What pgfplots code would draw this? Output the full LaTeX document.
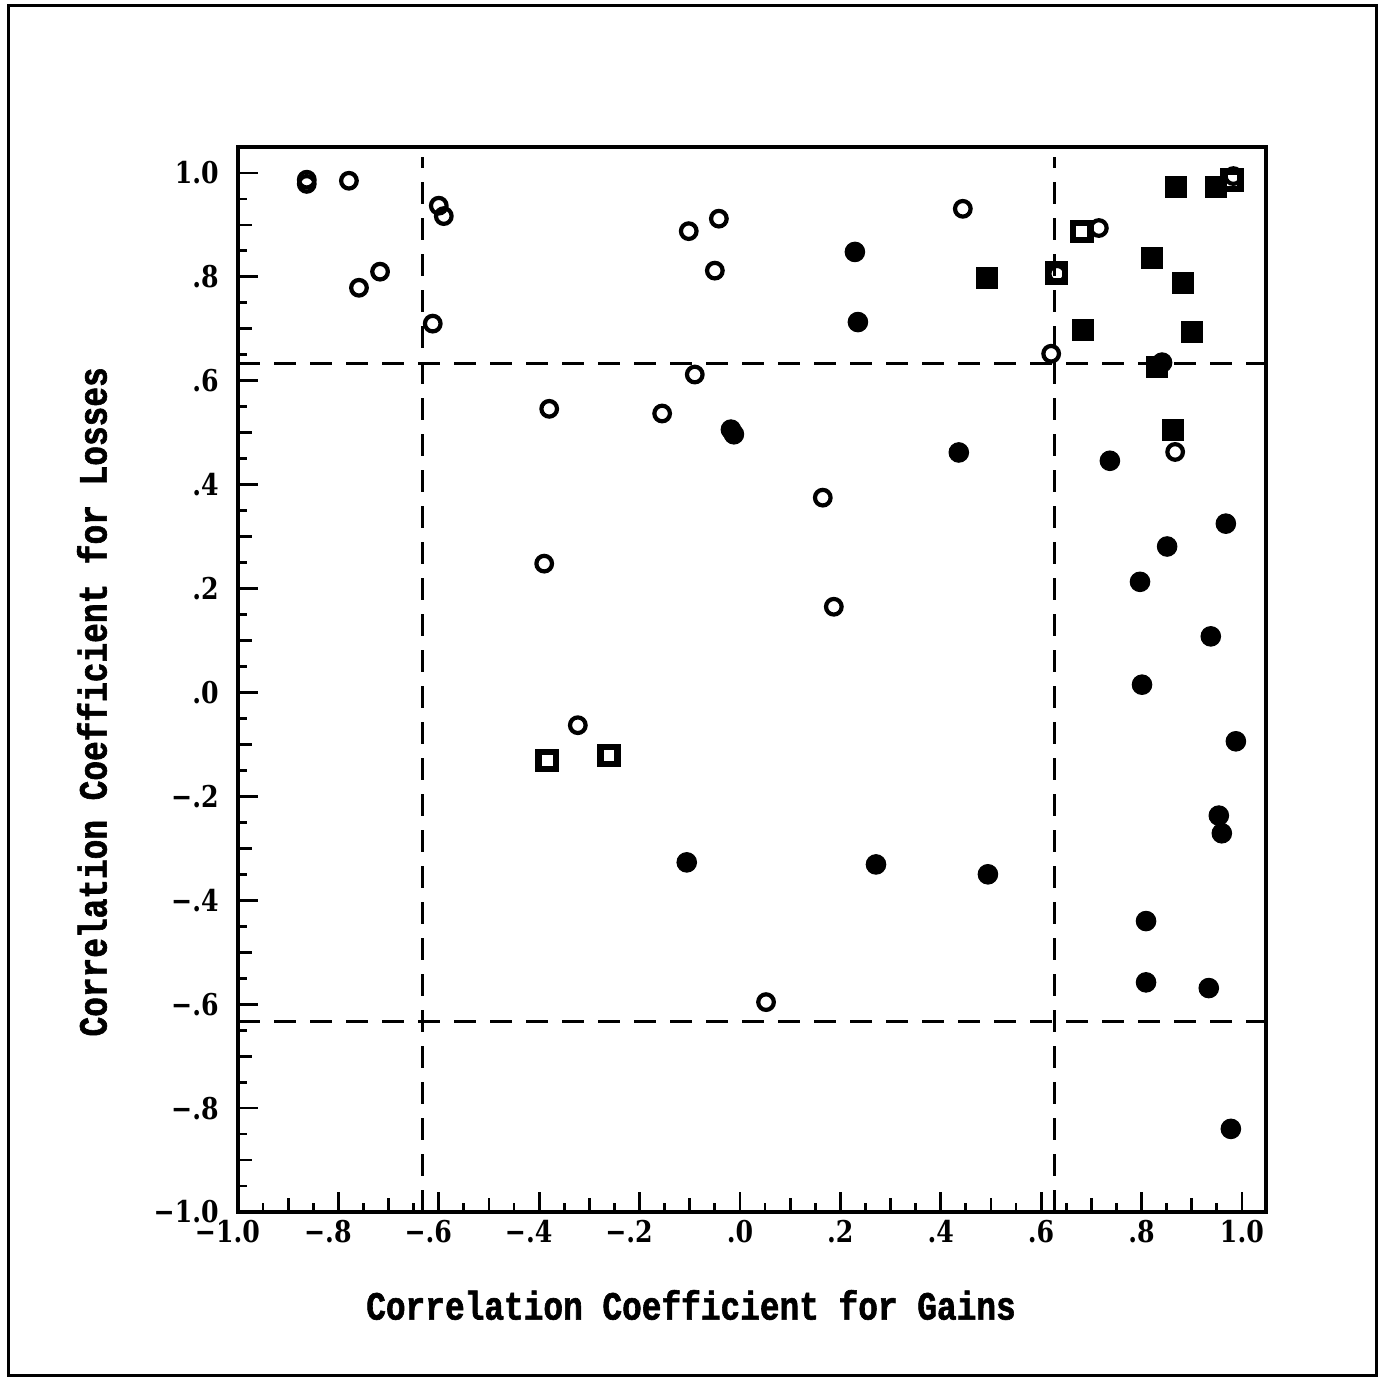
\documentclass[border=0pt]{standalone}
\usepackage{fontspec}
\usepackage{pgfplots}
\pgfplotsset{compat=1.18}
\newfontfamily\labfont{Liberation Mono}[FakeStretch=0.82, FakeBold=1.5]
\newfontfamily\tickfont{DejaVu Serif}[FakeStretch=0.84]
\begin{document}
\begin{tikzpicture}
\path[use as bounding box] (0,0) rectangle (691.5pt,691pt);
\draw[line width=1.5pt] (4pt,3pt) rectangle (688pt,688pt);
\begin{axis}[
  at={(119pt,85pt)}, anchor=south west,
  scale only axis, width=514pt, height=532.5pt,
  xmin=-1, xmax=1.048, ymin=-1, ymax=1.05,
  axis line style={line width=1.8pt},
  tick align=inside, xtick pos=bottom, ytick pos=left,
  major tick length=10pt, minor tick length=4.5pt,
  every tick/.style={line width=1.4pt, black},
  xtick={-1,-0.8,-0.6,-0.4,-0.2,0,0.2,0.4,0.6,0.8,1},
  ytick={-1,-0.8,-0.6,-0.4,-0.2,0,0.2,0.4,0.6,0.8,1},
  xticklabels={\llap{−}1.0,\llap{−}.8,\llap{−}.6,\llap{−}.4,\llap{−}.2,.0,.2,.4,.6,.8,1.0},
  yticklabels={−1.0,−.8,−.6,−.4,−.2,.0,.2,.4,.6,.8,1.0},
  minor x tick num=3, minor y tick num=3,
  extra x ticks={-0.9,-0.7,-0.5,-0.3,-0.1,0.1,0.3,0.5,0.7,0.9},
  extra y ticks={-0.9,-0.7,-0.5,-0.3,-0.1,0.1,0.3,0.5,0.7,0.9},
  extra x tick labels={}, extra y tick labels={},
  extra tick style={major tick length=7pt},
  ticklabel style={font=\tickfont\bfseries\fontsize{15}{15}\selectfont},
  xticklabel style={anchor=north, inner sep=0pt, yshift=-4pt},
  yticklabel style={anchor=east, inner sep=0pt, xshift=-9.5pt},
  xlabel={Correlation Coefficient for Gains},
  ylabel={Correlation Coefficient for Losses},
  xlabel style={at={(rel axis cs:0.4407,0)}, anchor=center, yshift=-46.5pt, font=\labfont\bfseries\fontsize{20}{20}\selectfont},
  ylabel style={at={(rel axis cs:0,0.479)}, anchor=center, yshift=73pt, font=\labfont\bfseries\fontsize{20}{20}\selectfont},
  clip=false,
]
% reference lines
\addplot[black, line width=1.5pt, dash pattern=on 11pt off 7pt] coordinates {(-0.632,-1) (-0.632,1.03)};
\addplot[black, line width=1.5pt, dash pattern=on 11pt off 7pt] coordinates {(0.627,-1) (0.627,1.03)};
\addplot[black, line width=1.5pt, dash pattern=on 11pt off 7pt] coordinates {(-1,0.633) (1.045,0.633)};
\addplot[black, line width=1.5pt, dash pattern=on 11pt off 7pt] coordinates {(-1,-0.633) (1.045,-0.633)};
% filled circles
\addplot[only marks, mark=*, mark size=4.9pt, mark options={fill=black, draw=black, line width=0.5pt}] coordinates {
(0.229,0.848) (0.235,0.713) (-0.018,0.506) (-0.012,0.497) (0.436,0.462)
(0.737,0.446) (0.968,0.325) (0.851,0.281) (0.797,0.213) (0.938,0.108)
(0.801,0.015) (0.988,-0.094) (0.954,-0.237) (0.960,-0.271) (-0.106,-0.327)
(0.271,-0.331) (0.494,-0.350) (0.809,-0.440) (0.809,-0.558) (0.934,-0.569)
(0.978,-0.840) (0.841,0.635)
};
% filled squares
\addplot[only marks, mark=square*, mark size=5.25pt, mark options={fill=black, draw=black, line width=0.5pt}] coordinates {
(0.868,0.973) (0.948,0.973) (0.821,0.837) (0.882,0.788) (0.683,0.698)
(0.900,0.694) (0.831,0.627) (0.863,0.506) (0.492,0.798)
};
% open squares
\addplot[only marks, mark=square, mark size=4.3pt, mark options={draw=black, line width=3.2pt}] coordinates {
(0.681,0.887) (0.631,0.808) (0.980,0.986) (-0.384,-0.131) (-0.261,-0.121)
};
% open circles
\addplot[only marks, mark=o, mark size=3.9pt, mark options={draw=black, line width=2.1pt}] coordinates {
(-0.863,0.987) (-0.863,0.979) (-0.779,0.985) (-0.759,0.779) (-0.717,0.810)
(-0.612,0.710) (-0.600,0.937) (-0.590,0.917) (-0.380,0.546) (-0.390,0.248)
(-0.323,-0.063) (-0.155,0.537) (-0.102,0.888) (-0.090,0.612) (-0.050,0.812)
(-0.042,0.912) (0.165,0.375) (0.187,0.165) (0.052,-0.596) (0.444,0.931)
(0.620,0.652) (0.715,0.894) (0.867,0.463) (0.983,0.994) (0.632,0.806)
};
\end{axis}
\end{tikzpicture}
\end{document}
